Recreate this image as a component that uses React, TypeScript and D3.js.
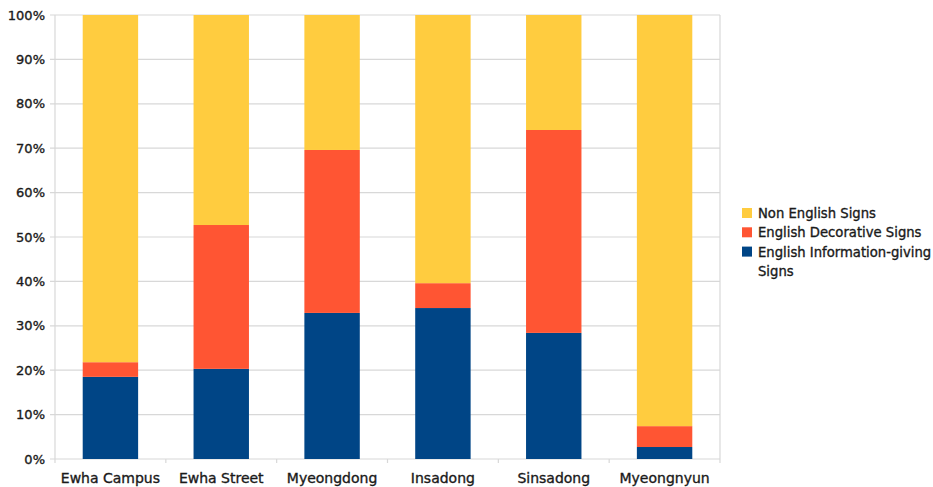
import React from "react";
import * as d3 from "d3";

const categories = ["Ewha Campus", "Ewha Street", "Myeongdong", "Insadong", "Sinsadong", "Myeongnyun"];
const seriesNames = ["English Information-giving Signs", "English Decorative Signs", "Non English Signs"];
const infoGiving = [18.5, 20.3, 32.9, 34.0, 28.4, 2.7];
const decorative = [3.3, 32.4, 36.7, 5.6, 45.7, 4.7];
const nonEnglish = [78.2, 47.3, 30.4, 60.4, 25.9, 92.6];
const yTicks = [0, 10, 20, 30, 40, 50, 60, 70, 80, 90, 100];
const colors = ["#004586", "#FF5533", "#FFCC3F"];

const W = 933, H = 487;
const M = { left: 55, right: 213, top: 15, bottom: 28 };

export default function App() {
  const x = d3.scaleBand<string>().domain(categories).range([M.left, W - M.right]).paddingInner(0).paddingOuter(0);
  const y = d3.scaleLinear().domain([0, 100]).range([H - M.bottom, M.top]);
  const rows = categories.map((c, i) => ({ cat: c, info: infoGiving[i], deco: decorative[i], non: nonEnglish[i] }));
  const stack = d3.stack<any>().keys(["info", "deco", "non"]);
  const layers = stack(rows);
  const bw = x.bandwidth() * 0.5;
  const font = "DejaVu Sans, sans-serif";
  const legendOrder = [2, 1, 0];
  const txt = { fontFamily: font, fill: "#1a1a1a", stroke: "#1a1a1a", strokeWidth: 0.35 };
  return (
    <svg width={W} height={H} style={{ position: "absolute", left: 0, top: 0, background: "#fff" }}>
      {yTicks.map((t) => (
        <g key={t}>
          <line x1={M.left - 5} x2={W - M.right} y1={y(t)} y2={y(t)} stroke="#d8d8d8" strokeWidth={1.2} />
          <text x={M.left - 10} y={y(t)} dy="0.35em" textAnchor="end" fontSize={13} {...txt}>
            {t}%
          </text>
        </g>
      ))}
      <line x1={M.left} x2={M.left} y1={M.top} y2={y(0)} stroke="#d8d8d8" strokeWidth={1.2} />
      <line x1={W - M.right} x2={W - M.right} y1={M.top} y2={y(0) + 4} stroke="#d8d8d8" strokeWidth={1.2} />
      {categories.map((c) => (
        <line key={c} x1={x(c)!} x2={x(c)!} y1={y(0)} y2={y(0) + 4} stroke="#d8d8d8" strokeWidth={1.2} />
      ))}
      {layers.map((layer, li) => (
        <g key={li} fill={colors[li]}>
          {layer.map((d: any, i: number) => (
            <rect key={i} x={x(categories[i])! + (x.bandwidth() - bw) / 2} width={bw} y={y(d[1])} height={y(d[0]) - y(d[1])} />
          ))}
        </g>
      ))}
      {categories.map((c) => (
        <text key={c} x={x(c)! + x.bandwidth() / 2} y={483} textAnchor="middle" fontSize={14} {...txt}>
          {c}
        </text>
      ))}
      <g transform="translate(742,208)">
        {legendOrder.map((si, k) => (
          <g key={si} transform={`translate(0,${k * 19.3})`}>
            <rect x={0} y={0} width={10} height={10} fill={colors[si]} />
            <text x={16} y={10} fontSize={13.2} {...txt}>
              {si === 0 ? "English Information-giving" : seriesNames[si]}
            </text>
            {si === 0 && (
              <text x={16} y={29.3} fontSize={13.2} {...txt}>Signs</text>
            )}
          </g>
        ))}
      </g>
    </svg>
  );
}
